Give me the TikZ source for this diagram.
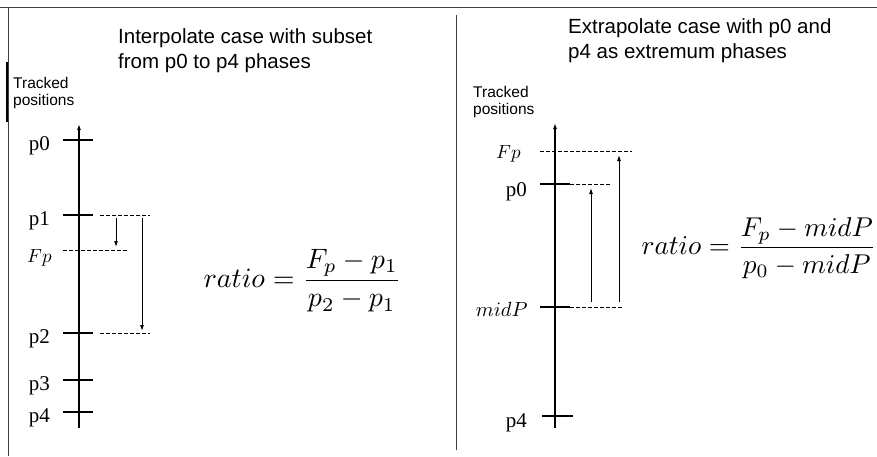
\documentclass[tikz,border=0pt]{standalone}
\usepackage{amsmath}
\usepackage{fontspec}
\newfontfamily\headfont{Liberation Sans}
\newfontfamily\labfont{Liberation Serif}
\usetikzlibrary{arrows.meta, positioning}
\tikzset{
  >={Latex[length=6,width=4]},  % small filled arrow tips
  % frame and axes
  frame line/.style={black!75, line width=0.9},
  axis line/.style={->, line width=1.2},
  axis tick/.style={line width=2.2},
  % guides and gaps
  guide/.style={dash pattern=on 3.5pt off 2.5pt, line width=0.8},
  gap arrow/.style={->, line width=0.9},
  % texts
  title text/.style={align=left, anchor=north west, inner sep=0, font=\headfont\fontsize{20.5}{25}\selectfont},
  axis text/.style={align=left, anchor=north west, inner sep=0, font=\headfont\fontsize{15.5}{17.5}\selectfont},
  pos label/.style={anchor=base east, inner sep=0, font=\labfont\fontsize{21}{21}\selectfont},
  var label/.style={anchor=base east, inner sep=0, scale=1.9},
  ratio text/.style={anchor=west, inner sep=0, scale=2.8}
}

\begin{document}
\begin{tikzpicture}[x=1pt,y=-1pt]
    \useasboundingbox (0,0) rectangle (877,456);
    % frame
    \coordinate (fa) at (0,7);
    \coordinate (fb) at (877,7);
    \coordinate (fc) at (8,7);
    \coordinate (fd) at (8,456);
    \coordinate (fe) at (7,62);
    \coordinate (ff) at (7,122);
    \coordinate (sa) at (456,15);
    \coordinate (sb) at (456,450);
    \draw[frame line] (fa) -- (fb);
    \draw[frame line] (fc) -- (fd);
    \draw[line width=2] (fe) -- (ff);
    \draw[frame line] (sa) -- (sb);

    % left panel: interpolate
    \node[title text] (ltitle) at (118,28) {Interpolate case with subset\\from p0 to p4 phases};
    \node[axis text] (laxis) at (13,77) {Tracked\\positions};
    \coordinate (lbot) at (79,428);
    \coordinate (ltop) at (79,124);
    \draw[axis line] (lbot) -- (ltop);
    \foreach \n/\y in {0/140,1/215,2/333,3/380,4/412}{
      \coordinate (lt\n) at (63,\y);
      \coordinate (lt\n e) at (93,\y);
      \draw[axis tick] (lt\n) -- (lt\n e);
      \node[pos label] (lp\n) at ([xshift=-13,yshift=-10]lt\n) {p\n};
    }
    % guides
    \coordinate (lg1a) at (100,215);
    \coordinate (lg1b) at (150,215);
    \coordinate (lfpa) at (63,250);
    \coordinate (lfpb) at (128,250);
    \coordinate (lg2a) at (100,333);
    \coordinate (lg2b) at (150,333);
    \draw[guide] (lg1a) -- (lg1b);
    \draw[guide] (lfpa) -- (lfpb);
    \draw[guide] (lg2a) -- (lg2b);
    \node[var label] (lfp) at ([xshift=-11,yshift=-12]lfpa) {$Fp$};
    % gaps
    \coordinate (la1) at (116,218);
    \coordinate (la1e) at (116,247);
    \coordinate (la2) at (142,218);
    \coordinate (la2e) at (142,331);
    \draw[gap arrow] (la1) -- (la1e);
    \draw[gap arrow] (la2) -- (la2e);
    \node[ratio text] (lratio) at (203,281) {$\displaystyle ratio = \frac{F_p - p_1}{p_2 - p_1}$};

    % right panel: extrapolate
    \node[title text] (rtitle) at (568,18) {Extrapolate case with p0 and\\p4 as extremum phases};
    \node[axis text] (raxis) at (473,86) {Tracked\\positions};
    \coordinate (rbot) at (555,428);
    \coordinate (rtop) at (555,123);
    \draw[axis line] (rbot) -- (rtop);
    % Fp level
    \coordinate (rfpa) at (540,151);
    \coordinate (rfpb) at (632,151);
    \draw[guide] (rfpa) -- (rfpb);
    \node[var label] (rfp) at ([xshift=-19,yshift=-7]rfpa) {$Fp$};
    % p0 level
    \coordinate (rt0) at (540,184);
    \coordinate (rt0e) at (570,184);
    \coordinate (rg0) at (610,184);
    \draw[axis tick] (rt0) -- (rt0e);
    \draw[guide] (rt0e) -- (rg0);
    \node[pos label] (rp0) at ([xshift=-13,yshift=-12]rt0) {p0};
    % midP level
    \coordinate (rtm) at (540,307);
    \coordinate (rtme) at (570,307);
    \coordinate (rgm) at (623,307);
    \draw[axis tick] (rtm) -- (rtme);
    \draw[guide] (rtme) -- (rgm);
    \node[var label, scale=2.05/1.9] (rmid) at ([xshift=-12,yshift=-9.5]rtm) {$midP$};
    % p4 level
    \coordinate (rt4) at (542,416);
    \coordinate (rt4e) at (573,416);
    \draw[axis tick] (rt4) -- (rt4e);
    \node[pos label] (rp4) at ([xshift=-15,yshift=-11]rt4) {p4};
    % gaps
    \coordinate (ra1) at (591,302);
    \coordinate (ra1e) at (591,188);
    \coordinate (ra2) at (619,302);
    \coordinate (ra2e) at (619,155);
    \draw[gap arrow] (ra1) -- (ra1e);
    \draw[gap arrow] (ra2) -- (ra2e);
    \node[ratio text, scale=2.72/2.8] (rratio) at (641,248) {$\displaystyle ratio = \frac{F_p - midP}{p_0 - midP}$};
\end{tikzpicture}
\end{document}
